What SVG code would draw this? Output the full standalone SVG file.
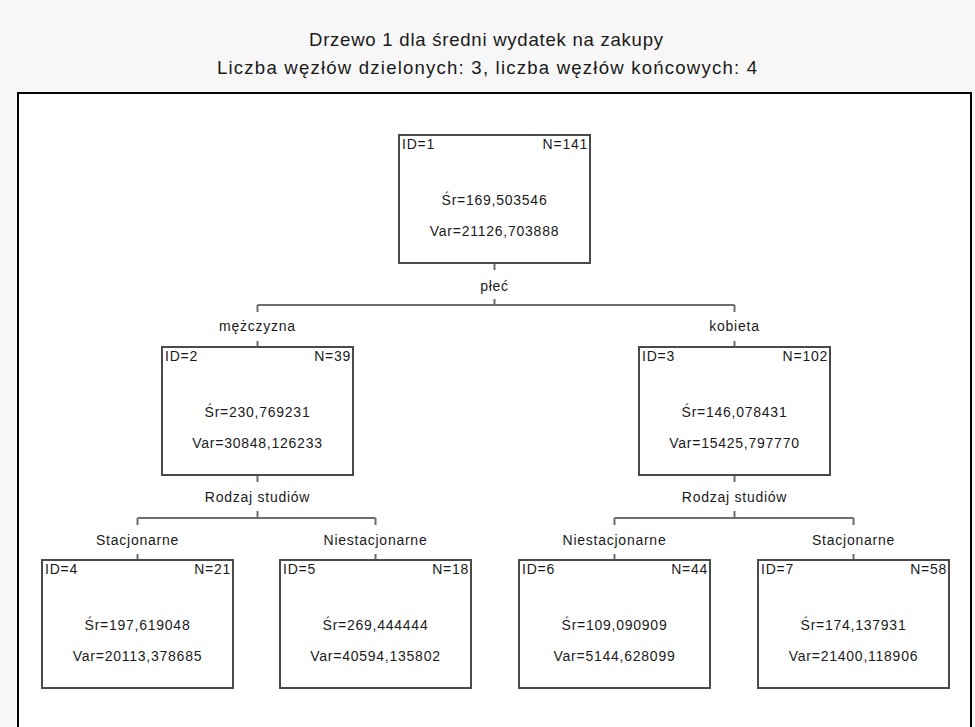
<svg xmlns="http://www.w3.org/2000/svg" width="975" height="727" viewBox="0 0 975 727">
<style>
text{font-family:"Liberation Sans",Arial,sans-serif;fill:#1a1a1a}
.t{font-size:18.6px}
.n{font-size:14px;letter-spacing:0.75px}
.c{text-anchor:middle}
.r{text-anchor:end}
.box{fill:#fff;stroke:#4a4a4a;stroke-width:2}
.ln{fill:none;stroke:#6e6e6e;stroke-width:2}
</style>
<rect x="0" y="0" width="975" height="727" fill="#f7f7f7"/>
<rect x="18" y="93" width="953" height="700" fill="#fff" stroke="#000" stroke-width="2"/>
<text class="t" x="309" y="46" textLength="354" lengthAdjust="spacing">Drzewo 1 dla średni wydatek na zakupy</text>
<text class="t" x="217" y="74" textLength="540" lengthAdjust="spacing">Liczba węzłów dzielonych: 3, liczba węzłów końcowych: 4</text>
<g id="connectors">
<path class="ln" d="M494.5 263v7M494.5 299v6M257.5 305H734.5M257.5 305v7M734.5 305v7M257.5 341v6M734.5 341v6"/>
<path class="ln" d="M257.5 475v7M257.5 511v7M137.5 518H375.5M137.5 518v7M375.5 518v7M137.5 554v6M375.5 554v6"/>
<path class="ln" d="M734.5 475v7M734.5 511v7M614.5 518H853.5M614.5 518v7M853.5 518v7M614.5 554v6M853.5 554v6"/>
<g class="n">
<text class="c" x="494.5" y="291">płeć</text>
<text class="c" x="257.5" y="331">mężczyzna</text>
<text class="c" x="734.5" y="331">kobieta</text>
<text class="c" x="257.5" y="502">Rodzaj studiów</text>
<text class="c" x="734.5" y="502">Rodzaj studiów</text>
<text class="c" x="137.5" y="545">Stacjonarne</text>
<text class="c" x="375.5" y="545">Niestacjonarne</text>
<text class="c" x="614.5" y="545">Niestacjonarne</text>
<text class="c" x="853.5" y="545">Stacjonarne</text>
</g>
</g>
<g id="node1" class="n">
<rect class="box" x="399" y="135" width="191" height="128"/>
<text x="402" y="149">ID=1</text><text class="r" x="588" y="149">N=141</text>
<text class="c" x="494.5" y="205">Śr=169,503546</text>
<text class="c" x="494.5" y="236">Var=21126,703888</text>
</g>
<g id="node2" class="n">
<rect class="box" x="162" y="347" width="191" height="128"/>
<text x="165" y="361">ID=2</text><text class="r" x="351" y="361">N=39</text>
<text class="c" x="257.5" y="417">Śr=230,769231</text>
<text class="c" x="257.5" y="448">Var=30848,126233</text>
</g>
<g id="node3" class="n">
<rect class="box" x="639" y="347" width="191" height="128"/>
<text x="642" y="361">ID=3</text><text class="r" x="828" y="361">N=102</text>
<text class="c" x="734.5" y="417">Śr=146,078431</text>
<text class="c" x="734.5" y="448">Var=15425,797770</text>
</g>
<g id="node4" class="n">
<rect class="box" x="42" y="560" width="191" height="128"/>
<text x="45" y="574">ID=4</text><text class="r" x="231" y="574">N=21</text>
<text class="c" x="137.5" y="630">Śr=197,619048</text>
<text class="c" x="137.5" y="661">Var=20113,378685</text>
</g>
<g id="node5" class="n">
<rect class="box" x="280" y="560" width="191" height="128"/>
<text x="283" y="574">ID=5</text><text class="r" x="469" y="574">N=18</text>
<text class="c" x="375.5" y="630">Śr=269,444444</text>
<text class="c" x="375.5" y="661">Var=40594,135802</text>
</g>
<g id="node6" class="n">
<rect class="box" x="519" y="560" width="191" height="128"/>
<text x="522" y="574">ID=6</text><text class="r" x="708" y="574">N=44</text>
<text class="c" x="614.5" y="630">Śr=109,090909</text>
<text class="c" x="614.5" y="661">Var=5144,628099</text>
</g>
<g id="node7" class="n">
<rect class="box" x="758" y="560" width="191" height="128"/>
<text x="761" y="574">ID=7</text><text class="r" x="947" y="574">N=58</text>
<text class="c" x="853.5" y="630">Śr=174,137931</text>
<text class="c" x="853.5" y="661">Var=21400,118906</text>
</g>
</svg>
